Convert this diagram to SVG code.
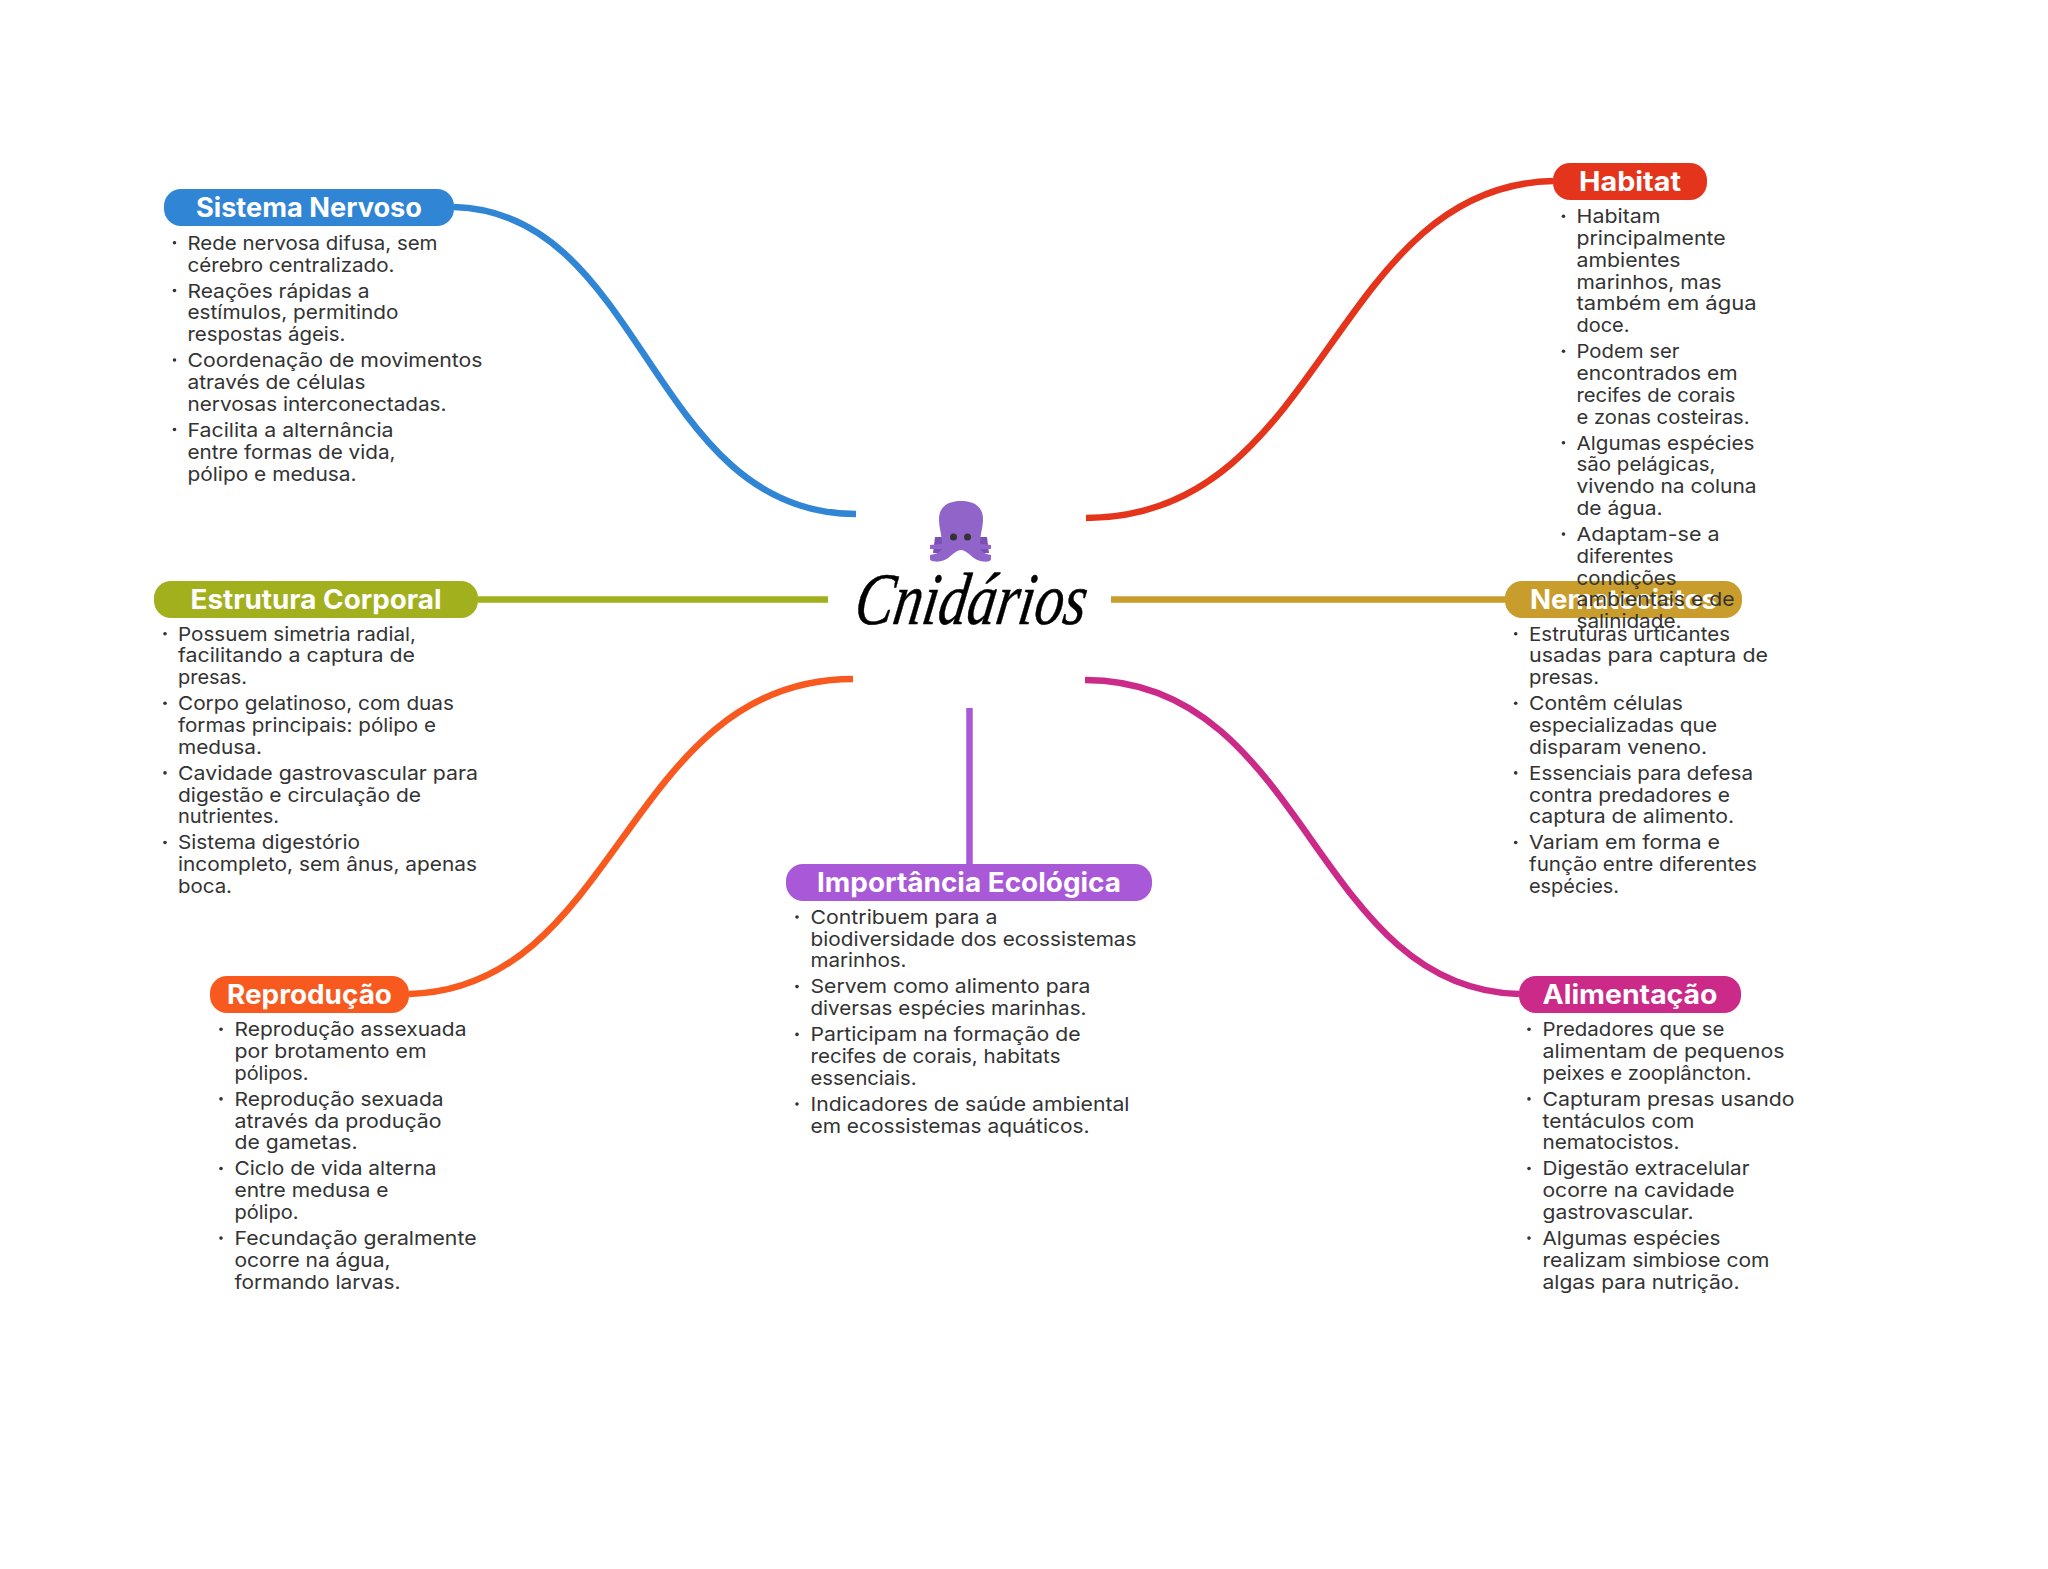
<svg xmlns="http://www.w3.org/2000/svg" width="2048" height="1569" viewBox="0 0 2048 1569">
<style>
.t{font-family:Inter,"Noto Sans",sans-serif;font-size:19px;fill:#333;transform:translateY(.6px)}
.h{font-family:Inter,"Noto Sans",sans-serif;font-size:26.500px;font-weight:700;fill:#fff;text-anchor:middle;transform:translateY(.5px)}
.c{fill:none;stroke-width:6.5}
.b{fill:#333}
</style>
<rect width="2048" height="1569" fill="#fff"/>
<g id="connectors">
<path class="c" stroke="#3085d5" d="M454 207C645 212 650 514 856 514"/>
<path class="c" stroke="#e5341c" d="M1553 181C1331 186 1325 518 1086 518"/>
<path class="c" stroke="#a3b01e" d="M478 599.500H828"/>
<path class="c" stroke="#c89d2c" d="M1111 599.500H1506"/>
<path class="c" stroke="#f8591f" d="M409 994C620 989 626 679 853 679"/>
<path class="c" stroke="#cb2a88" d="M1519 994C1313 989 1307 680 1085 680"/>
<path class="c" stroke="#a958d8" d="M969.500 708V865"/>
</g>
<g id="center">
<path fill="#7a50b4" d="M935 537H945V553H933ZM987 537H977V553H989Z"/>
<path fill="#9064c8" d="M939 519C939 506 949 501 961 501C973 501 983 506 983 519C983 528 980 535 980 544L991 545V549L980 549C982 552 985 554 991 555V559C991 561 988 562 983 561.500C973 561 968 550 961 550C954 550 949 561 939 561.500C934 562 930 561 930 559V555C937 554 940 552 942 549L930 549V545L942 544C942 535 939 528 939 519Z"/>
<circle cx="953.500" cy="537" r="3.500" fill="#333"/><circle cx="967.500" cy="537" r="3.500" fill="#333"/>
<text transform="translate(852.500 624) skewX(-9)" textLength="231" lengthAdjust="spacingAndGlyphs" style="font-family:'Liberation Serif',serif;font-style:italic;font-size:74px;fill:#000;stroke:#000;stroke-width:.5">Cnidários</text>
</g>
<g id="n-sistema">
<rect x="164" y="189" width="290" height="37" rx="17" fill="#3085d5"/>
<text class="h" x="309" y="216" textLength="226" lengthAdjust="spacingAndGlyphs">Sistema Nervoso</text>
<circle class="b" cx="174.500" cy="242.700" r="1.800"/><circle class="b" cx="174.500" cy="290.500" r="1.800"/><circle class="b" cx="174.500" cy="360" r="1.800"/><circle class="b" cx="174.500" cy="429.500" r="1.800"/>
<text class="t" x="187.500" y="249" textLength="250" lengthAdjust="spacingAndGlyphs">Rede nervosa difusa, sem</text>
<text class="t" x="187.500" y="271" textLength="207" lengthAdjust="spacingAndGlyphs">cérebro centralizado.</text>
<text class="t" x="187.500" y="297" textLength="182" lengthAdjust="spacingAndGlyphs">Reações rápidas a</text>
<text class="t" x="187.500" y="318.500" textLength="211" lengthAdjust="spacingAndGlyphs">estímulos, permitindo</text>
<text class="t" x="187.500" y="340.500" textLength="158" lengthAdjust="spacingAndGlyphs">respostas ágeis.</text>
<text class="t" x="187.500" y="366.500" textLength="295" lengthAdjust="spacingAndGlyphs">Coordenação de movimentos</text>
<text class="t" x="187.500" y="388" textLength="178" lengthAdjust="spacingAndGlyphs">através de células</text>
<text class="t" x="187.500" y="410" textLength="259" lengthAdjust="spacingAndGlyphs">nervosas interconectadas.</text>
<text class="t" x="187.500" y="436" textLength="206" lengthAdjust="spacingAndGlyphs">Facilita a alternância</text>
<text class="t" x="187.500" y="458" textLength="208" lengthAdjust="spacingAndGlyphs">entre formas de vida,</text>
<text class="t" x="187.500" y="480" textLength="169" lengthAdjust="spacingAndGlyphs">pólipo e medusa.</text>
</g>
<g id="n-estrutura">
<rect x="154" y="581" width="324" height="37" rx="17" fill="#a3b01e"/>
<text class="h" x="316" y="608" textLength="251" lengthAdjust="spacingAndGlyphs">Estrutura Corporal</text>
<circle class="b" cx="165" cy="633.700" r="1.800"/><circle class="b" cx="165" cy="703.300" r="1.800"/><circle class="b" cx="165" cy="772.900" r="1.800"/><circle class="b" cx="165" cy="842.500" r="1.800"/>
<text class="t" x="178" y="640" textLength="238" lengthAdjust="spacingAndGlyphs">Possuem simetria radial,</text>
<text class="t" x="178" y="661.800" textLength="237" lengthAdjust="spacingAndGlyphs">facilitando a captura de</text>
<text class="t" x="178" y="683.600" textLength="69" lengthAdjust="spacingAndGlyphs">presas.</text>
<text class="t" x="178" y="709.600" textLength="276" lengthAdjust="spacingAndGlyphs">Corpo gelatinoso, com duas</text>
<text class="t" x="178" y="731.400" textLength="258" lengthAdjust="spacingAndGlyphs">formas principais: pólipo e</text>
<text class="t" x="178" y="753.200" textLength="84" lengthAdjust="spacingAndGlyphs">medusa.</text>
<text class="t" x="178" y="779.200" textLength="300" lengthAdjust="spacingAndGlyphs">Cavidade gastrovascular para</text>
<text class="t" x="178" y="801" textLength="243" lengthAdjust="spacingAndGlyphs">digestão e circulação de</text>
<text class="t" x="178" y="822.800" textLength="101" lengthAdjust="spacingAndGlyphs">nutrientes.</text>
<text class="t" x="178" y="848.800" textLength="182" lengthAdjust="spacingAndGlyphs">Sistema digestório</text>
<text class="t" x="178" y="870.600" textLength="299" lengthAdjust="spacingAndGlyphs">incompleto, sem ânus, apenas</text>
<text class="t" x="178" y="892.400" textLength="54" lengthAdjust="spacingAndGlyphs">boca.</text>
</g>
<g id="n-reproducao">
<rect x="210" y="976" width="199" height="37" rx="17" fill="#f8591f"/>
<text class="h" x="309.500" y="1003" textLength="165" lengthAdjust="spacingAndGlyphs">Reprodução</text>
<circle class="b" cx="221" cy="1029.300" r="1.800"/><circle class="b" cx="221" cy="1098.900" r="1.800"/><circle class="b" cx="221" cy="1168.500" r="1.800"/><circle class="b" cx="221" cy="1238.100" r="1.800"/>
<text class="t" x="234.500" y="1035.600" textLength="232" lengthAdjust="spacingAndGlyphs">Reprodução assexuada</text>
<text class="t" x="234.500" y="1057.400" textLength="192" lengthAdjust="spacingAndGlyphs">por brotamento em</text>
<text class="t" x="234.500" y="1079.200" textLength="74" lengthAdjust="spacingAndGlyphs">pólipos.</text>
<text class="t" x="234.500" y="1105.200" textLength="209" lengthAdjust="spacingAndGlyphs">Reprodução sexuada</text>
<text class="t" x="234.500" y="1127" textLength="207" lengthAdjust="spacingAndGlyphs">através da produção</text>
<text class="t" x="234.500" y="1148.800" textLength="123" lengthAdjust="spacingAndGlyphs">de gametas.</text>
<text class="t" x="234.500" y="1174.800" textLength="202" lengthAdjust="spacingAndGlyphs">Ciclo de vida alterna</text>
<text class="t" x="234.500" y="1196.600" textLength="154" lengthAdjust="spacingAndGlyphs">entre medusa e</text>
<text class="t" x="234.500" y="1218.400" textLength="64" lengthAdjust="spacingAndGlyphs">pólipo.</text>
<text class="t" x="234.500" y="1244.400" textLength="242" lengthAdjust="spacingAndGlyphs">Fecundação geralmente</text>
<text class="t" x="234.500" y="1266.200" textLength="156" lengthAdjust="spacingAndGlyphs">ocorre na água,</text>
<text class="t" x="234.500" y="1288" textLength="166" lengthAdjust="spacingAndGlyphs">formando larvas.</text>
</g>
<g id="n-importancia">
<rect x="786" y="864" width="366" height="37" rx="17" fill="#a958d8"/>
<text class="h" x="969" y="891" textLength="304" lengthAdjust="spacingAndGlyphs">Importância Ecológica</text>
<circle class="b" cx="797" cy="917" r="1.800"/><circle class="b" cx="797" cy="986.600" r="1.800"/><circle class="b" cx="797" cy="1034.400" r="1.800"/><circle class="b" cx="797" cy="1104" r="1.800"/>
<text class="t" x="810.500" y="923.300" textLength="187" lengthAdjust="spacingAndGlyphs">Contribuem para a</text>
<text class="t" x="810.500" y="945.100" textLength="326" lengthAdjust="spacingAndGlyphs">biodiversidade dos ecossistemas</text>
<text class="t" x="810.500" y="966.900" textLength="96" lengthAdjust="spacingAndGlyphs">marinhos.</text>
<text class="t" x="810.500" y="992.900" textLength="280" lengthAdjust="spacingAndGlyphs">Servem como alimento para</text>
<text class="t" x="810.500" y="1014.700" textLength="276" lengthAdjust="spacingAndGlyphs">diversas espécies marinhas.</text>
<text class="t" x="810.500" y="1040.700" textLength="270" lengthAdjust="spacingAndGlyphs">Participam na formação de</text>
<text class="t" x="810.500" y="1062.500" textLength="250" lengthAdjust="spacingAndGlyphs">recifes de corais, habitats</text>
<text class="t" x="810.500" y="1084.300" textLength="106" lengthAdjust="spacingAndGlyphs">essenciais.</text>
<text class="t" x="810.500" y="1110.300" textLength="319" lengthAdjust="spacingAndGlyphs">Indicadores de saúde ambiental</text>
<text class="t" x="810.500" y="1132.100" textLength="279" lengthAdjust="spacingAndGlyphs">em ecossistemas aquáticos.</text>
</g>
<g id="n-alimentacao">
<rect x="1519" y="976" width="222" height="37" rx="17" fill="#cb2a88"/>
<text class="h" x="1630" y="1003" textLength="175" lengthAdjust="spacingAndGlyphs">Alimentação</text>
<circle class="b" cx="1529" cy="1029.300" r="1.800"/><circle class="b" cx="1529" cy="1098.900" r="1.800"/><circle class="b" cx="1529" cy="1168.500" r="1.800"/><circle class="b" cx="1529" cy="1238.100" r="1.800"/>
<text class="t" x="1542.500" y="1035.600" textLength="182" lengthAdjust="spacingAndGlyphs">Predadores que se</text>
<text class="t" x="1542.500" y="1057.400" textLength="242" lengthAdjust="spacingAndGlyphs">alimentam de pequenos</text>
<text class="t" x="1542.500" y="1079.200" textLength="209" lengthAdjust="spacingAndGlyphs">peixes e zooplâncton.</text>
<text class="t" x="1542.500" y="1105.200" textLength="252" lengthAdjust="spacingAndGlyphs">Capturam presas usando</text>
<text class="t" x="1542.500" y="1127" textLength="152" lengthAdjust="spacingAndGlyphs">tentáculos com</text>
<text class="t" x="1542.500" y="1148.800" textLength="137" lengthAdjust="spacingAndGlyphs">nematocistos.</text>
<text class="t" x="1542.500" y="1174.800" textLength="207" lengthAdjust="spacingAndGlyphs">Digestão extracelular</text>
<text class="t" x="1542.500" y="1196.600" textLength="192" lengthAdjust="spacingAndGlyphs">ocorre na cavidade</text>
<text class="t" x="1542.500" y="1218.400" textLength="151" lengthAdjust="spacingAndGlyphs">gastrovascular.</text>
<text class="t" x="1542.500" y="1244.400" textLength="178" lengthAdjust="spacingAndGlyphs">Algumas espécies</text>
<text class="t" x="1542.500" y="1266.200" textLength="227" lengthAdjust="spacingAndGlyphs">realizam simbiose com</text>
<text class="t" x="1542.500" y="1288" textLength="197" lengthAdjust="spacingAndGlyphs">algas para nutrição.</text>
</g>
<g id="n-nematocistos">
<rect x="1505" y="581" width="237" height="37" rx="17" fill="#c89d2c"/>
<text class="h" x="1623.500" y="608" textLength="187" lengthAdjust="spacingAndGlyphs">Nematocistos</text>
<circle class="b" cx="1515.700" cy="633.700" r="1.800"/><circle class="b" cx="1515.700" cy="703.300" r="1.800"/><circle class="b" cx="1515.700" cy="772.900" r="1.800"/><circle class="b" cx="1515.700" cy="842.500" r="1.800"/>
<text class="t" x="1529" y="640" textLength="201" lengthAdjust="spacingAndGlyphs">Estruturas urticantes</text>
<text class="t" x="1529" y="661.800" textLength="239" lengthAdjust="spacingAndGlyphs">usadas para captura de</text>
<text class="t" x="1529" y="683.600" textLength="70" lengthAdjust="spacingAndGlyphs">presas.</text>
<text class="t" x="1529" y="709.600" textLength="154" lengthAdjust="spacingAndGlyphs">Contêm células</text>
<text class="t" x="1529" y="731.400" textLength="188" lengthAdjust="spacingAndGlyphs">especializadas que</text>
<text class="t" x="1529" y="753.200" textLength="178" lengthAdjust="spacingAndGlyphs">disparam veneno.</text>
<text class="t" x="1529" y="779.200" textLength="224" lengthAdjust="spacingAndGlyphs">Essenciais para defesa</text>
<text class="t" x="1529" y="801" textLength="201" lengthAdjust="spacingAndGlyphs">contra predadores e</text>
<text class="t" x="1529" y="822.800" textLength="205" lengthAdjust="spacingAndGlyphs">captura de alimento.</text>
<text class="t" x="1529" y="848.800" textLength="191" lengthAdjust="spacingAndGlyphs">Variam em forma e</text>
<text class="t" x="1529" y="870.600" textLength="228" lengthAdjust="spacingAndGlyphs">função entre diferentes</text>
<text class="t" x="1529" y="892.400" textLength="90" lengthAdjust="spacingAndGlyphs">espécies.</text>
</g>
<g id="n-habitat">
<rect x="1553" y="163" width="154" height="37" rx="17" fill="#e5341c"/>
<text class="h" x="1630" y="190" textLength="102" lengthAdjust="spacingAndGlyphs">Habitat</text>
<circle class="b" cx="1563.500" cy="216.300" r="1.800"/><circle class="b" cx="1563.500" cy="351.300" r="1.800"/><circle class="b" cx="1563.500" cy="442.700" r="1.800"/><circle class="b" cx="1563.500" cy="534.100" r="1.800"/>
<text class="t" x="1576.500" y="222.600" textLength="84" lengthAdjust="spacingAndGlyphs">Habitam</text>
<text class="t" x="1576.500" y="244.400" textLength="149" lengthAdjust="spacingAndGlyphs">principalmente</text>
<text class="t" x="1576.500" y="266.200" textLength="104" lengthAdjust="spacingAndGlyphs">ambientes</text>
<text class="t" x="1576.500" y="288" textLength="145" lengthAdjust="spacingAndGlyphs">marinhos, mas</text>
<text class="t" x="1576.500" y="309.800" textLength="180" lengthAdjust="spacingAndGlyphs">também em água</text>
<text class="t" x="1576.500" y="331.600" textLength="53" lengthAdjust="spacingAndGlyphs">doce.</text>
<text class="t" x="1576.500" y="357.600" textLength="103" lengthAdjust="spacingAndGlyphs">Podem ser</text>
<text class="t" x="1576.500" y="379.400" textLength="161" lengthAdjust="spacingAndGlyphs">encontrados em</text>
<text class="t" x="1576.500" y="401.200" textLength="159" lengthAdjust="spacingAndGlyphs">recifes de corais</text>
<text class="t" x="1576.500" y="423" textLength="173" lengthAdjust="spacingAndGlyphs">e zonas costeiras.</text>
<text class="t" x="1576.500" y="449" textLength="178" lengthAdjust="spacingAndGlyphs">Algumas espécies</text>
<text class="t" x="1576.500" y="470.800" textLength="139" lengthAdjust="spacingAndGlyphs">são pelágicas,</text>
<text class="t" x="1576.500" y="492.600" textLength="180" lengthAdjust="spacingAndGlyphs">vivendo na coluna</text>
<text class="t" x="1576.500" y="514.400" textLength="86" lengthAdjust="spacingAndGlyphs">de água.</text>
<text class="t" x="1576.500" y="540.400" textLength="143" lengthAdjust="spacingAndGlyphs">Adaptam-se a</text>
<text class="t" x="1576.500" y="562.200" textLength="97" lengthAdjust="spacingAndGlyphs">diferentes</text>
<text class="t" x="1576.500" y="584" textLength="100" lengthAdjust="spacingAndGlyphs">condições</text>
<text class="t" x="1576.500" y="605.800" textLength="158" lengthAdjust="spacingAndGlyphs">ambientais e de</text>
<text class="t" x="1576.500" y="627.600" textLength="105" lengthAdjust="spacingAndGlyphs">salinidade.</text>
</g>
</svg>
